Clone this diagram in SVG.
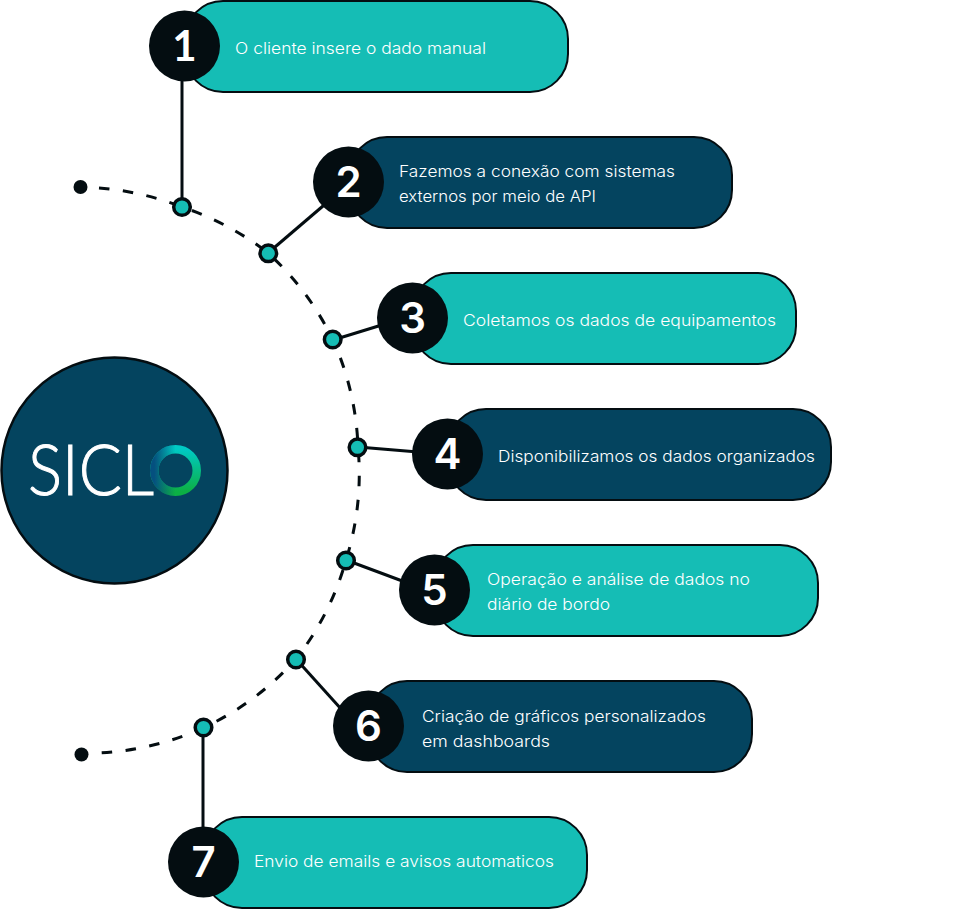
<svg xmlns="http://www.w3.org/2000/svg" width="976" height="909" viewBox="0 0 976 909">
<style>
.pill{stroke:#040d11;stroke-width:2}
.teal{fill:#15bdb5}
.navy{fill:#04445f}
.disc{fill:#040d11}
.num{font-family:"Inter","Liberation Sans",sans-serif;font-size:42px;font-weight:600;fill:#fff;text-anchor:middle}
.one{font-family:"Lato","Liberation Sans",sans-serif;font-weight:700}
.lbl{font-family:"Inter","Liberation Sans",sans-serif;font-size:15.5px;fill:#fff;font-weight:350}
.wire{stroke:#040d11;stroke-width:3;fill:none}
.dash{stroke:#040d11;stroke-width:3;fill:none;stroke-dasharray:10.500 13.500}
.dot{fill:#15bdb5;stroke:#040d11;stroke-width:3.500}
.logo{font-family:"Lato","Liberation Sans",sans-serif;font-size:70px;font-weight:300;fill:#fff;stroke:#fff;stroke-width:1}
</style>
<defs>
<linearGradient id="ringA" x1="0" y1="0" x2="0" y2="1"><stop offset="0" stop-color="#00c9c4"/><stop offset="1" stop-color="#0cb044"/></linearGradient>
<linearGradient id="ringB" x1="0" y1="0" x2="1" y2="0"><stop offset="0" stop-color="#05507f"/><stop offset="0.5" stop-color="#05507f" stop-opacity="0"/></linearGradient>
</defs>
<g id="connectors">
<path class="dash" d="M99 188 A285 285 0 0 1 182 207 A285 285 0 0 1 268 253 A285 285 0 0 1 333 340 A285 285 0 0 1 358 447 A285 285 0 0 1 346 560 A285 285 0 0 1 296 659 A285 285 0 0 1 203 728 A285 285 0 0 1 96 753"/>
<line class="wire" x1="182" y1="80" x2="182" y2="207"/>
<line class="wire" x1="268" y1="253" x2="330" y2="200"/>
<line class="wire" x1="333" y1="340" x2="385" y2="324"/>
<line class="wire" x1="358" y1="447" x2="418" y2="452"/>
<line class="wire" x1="346" y1="560" x2="405" y2="582"/>
<line class="wire" x1="296" y1="659" x2="342" y2="710"/>
<line class="wire" x1="203" y1="728" x2="203" y2="835"/>
<circle class="disc" cx="80.500" cy="187" r="7"/>
<circle class="disc" cx="81.500" cy="754.500" r="7"/>
<circle class="dot" cx="182" cy="207" r="8.300"/>
<circle class="dot" cx="268.300" cy="253.300" r="8.300"/>
<circle class="dot" cx="332.700" cy="339.500" r="8.300"/>
<circle class="dot" cx="357.500" cy="447.300" r="8.300"/>
<circle class="dot" cx="346" cy="560.500" r="8.300"/>
<circle class="dot" cx="296" cy="659.500" r="8.300"/>
<circle class="dot" cx="203.500" cy="727.500" r="8.300"/>
</g>
<g id="logo">
<circle cx="114.500" cy="470.500" r="113" fill="#04445f" stroke="#040d11" stroke-width="2.500"/>
<circle cx="175.500" cy="470.500" r="21.250" fill="none" stroke="url(#ringA)" stroke-width="8.500"/>
<circle cx="175.500" cy="470.500" r="21.250" fill="none" stroke="url(#ringB)" stroke-width="8.500"/>
<text class="logo" x="28" y="495" textLength="126" lengthAdjust="spacingAndGlyphs">SICL</text>
</g>
<g id="node1">
<rect class="pill teal" x="185" y="1" width="383" height="91" rx="38"/>
<circle class="disc" cx="184.500" cy="46" r="35.500"/>
<text class="num one" x="184.500" y="61">1</text>
<text class="lbl" x="235" y="54" textLength="251" lengthAdjust="spacingAndGlyphs">O cliente insere o dado manual</text>
</g>
<g id="node2">
<rect class="pill navy" x="349" y="137" width="383" height="91" rx="38"/>
<circle class="disc" cx="348.500" cy="182" r="35.500"/>
<text class="num" x="348.500" y="197">2</text>
<text class="lbl" x="399" y="177" textLength="276" lengthAdjust="spacingAndGlyphs">Fazemos a conexão com sistemas</text>
<text class="lbl" x="399" y="202" textLength="197" lengthAdjust="spacingAndGlyphs">externos por meio de API</text>
</g>
<g id="node3">
<rect class="pill teal" x="413" y="273" width="383" height="91" rx="38"/>
<circle class="disc" cx="412.500" cy="318" r="35.500"/>
<text class="num" x="412.500" y="333">3</text>
<text class="lbl" x="463" y="326" textLength="313" lengthAdjust="spacingAndGlyphs">Coletamos os dados de equipamentos</text>
</g>
<g id="node4">
<rect class="pill navy" x="448" y="409" width="383" height="91" rx="38"/>
<circle class="disc" cx="447.500" cy="454" r="35.500"/>
<text class="num" x="447.500" y="469">4</text>
<text class="lbl" x="498" y="462" textLength="317" lengthAdjust="spacingAndGlyphs">Disponibilizamos os dados organizados</text>
</g>
<g id="node5">
<rect class="pill teal" x="435" y="545" width="383" height="91" rx="38"/>
<circle class="disc" cx="434.500" cy="590" r="35.500"/>
<text class="num" x="434.500" y="605">5</text>
<text class="lbl" x="487" y="585" textLength="263" lengthAdjust="spacingAndGlyphs">Operação e análise de dados no</text>
<text class="lbl" x="487" y="610" textLength="123" lengthAdjust="spacingAndGlyphs">diário de bordo</text>
</g>
<g id="node6">
<rect class="pill navy" x="369" y="681" width="383" height="91" rx="38"/>
<circle class="disc" cx="368.500" cy="726" r="35.500"/>
<text class="num" x="368.500" y="741">6</text>
<text class="lbl" x="422" y="722" textLength="284" lengthAdjust="spacingAndGlyphs">Criação de gráficos personalizados</text>
<text class="lbl" x="422" y="747" textLength="128" lengthAdjust="spacingAndGlyphs">em dashboards</text>
</g>
<g id="node7">
<rect class="pill teal" x="204" y="817" width="383" height="91" rx="38"/>
<circle class="disc" cx="203.500" cy="862" r="35.500"/>
<text class="num" x="203.500" y="877">7</text>
<text class="lbl" x="254" y="867" textLength="300" lengthAdjust="spacingAndGlyphs">Envio de emails e avisos automaticos</text>
</g>
</svg>
